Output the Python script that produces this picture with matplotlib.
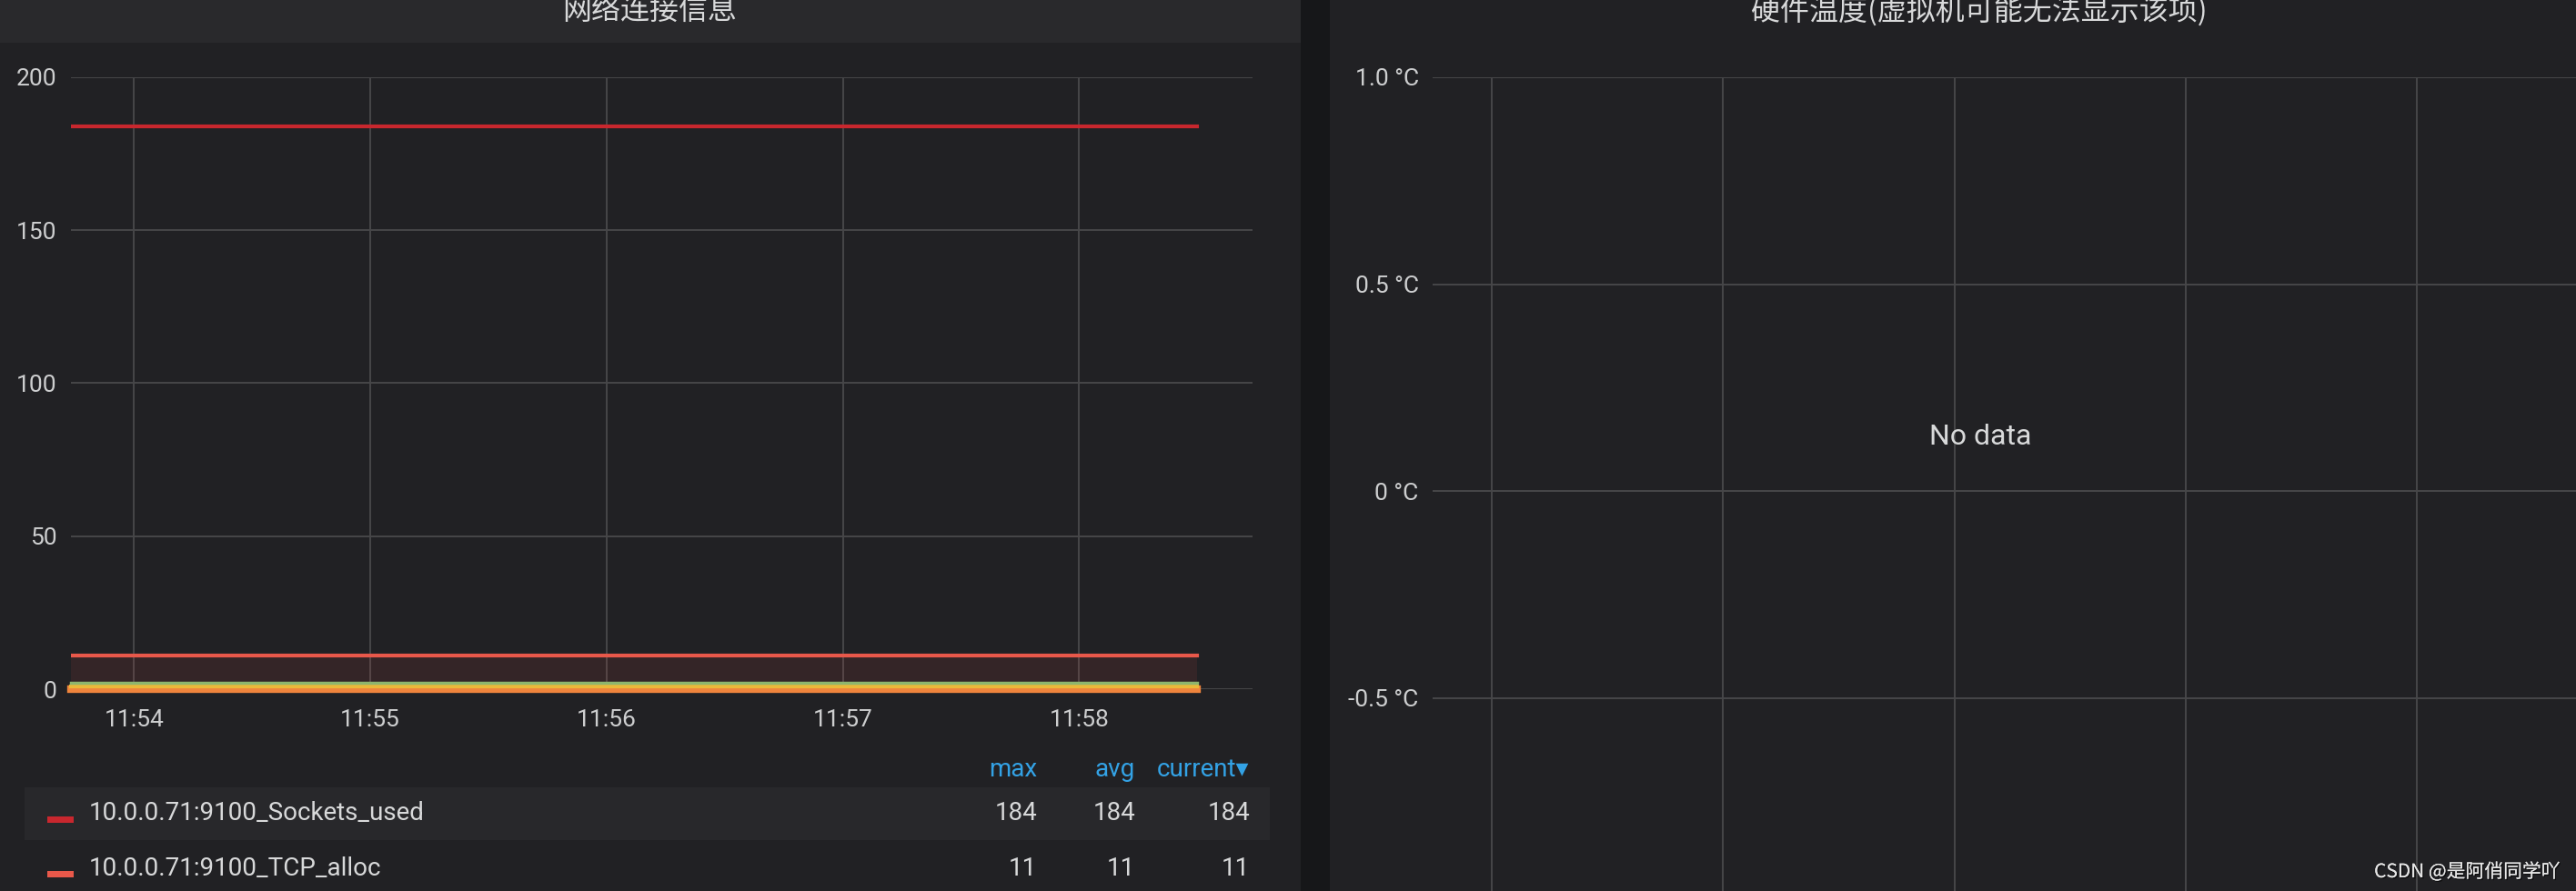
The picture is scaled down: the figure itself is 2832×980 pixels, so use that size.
import matplotlib
matplotlib.use("Agg")
import matplotlib.pyplot as plt
import matplotlib.dates as mdates
import matplotlib.patheffects as pe
from matplotlib.patches import Rectangle
import pandas as pd

W, H = 2832, 980

# time axis (same 5 minute window on both panels)
times = pd.to_datetime(["2022-08-07 11:53:44", "2022-08-07 11:54:44", "2022-08-07 11:55:44",
                        "2022-08-07 11:56:44", "2022-08-07 11:57:44", "2022-08-07 11:58:30"])
range_start = pd.Timestamp("2022-08-07 11:53:44")
range_end = pd.Timestamp("2022-08-07 11:58:44")
right_start = pd.Timestamp("2022-08-07 11:53:44.6")
right_end = pd.Timestamp("2022-08-07 11:58:41.3")

# series of the left panel
sockets_used = [184, 184, 184, 184, 184, 184]
tcp_alloc = [11, 11, 11, 11, 11, 11]
tcp_inuse = [2, 2, 2, 2, 2, 2]
tcp_tw = [1, 1, 1, 1, 1, 1]
udp_inuse = [0, 0, 0, 0, 0, 0]

left_yticks = [0, 50, 100, 150, 200]
right_yticks = [-0.5, 0, 0.5, 1.0]
right_ylabels = ["-0.5 °C", "0 °C", "0.5 °C", "1.0 °C"]

legend_names = ["10.0.0.71:9100_Sockets_used", "10.0.0.71:9100_TCP_alloc"]
legend_series = [sockets_used, tcp_alloc]
legend_colors = ["#C8272E", "#E8584A"]

left_title = "网络连接信息"
right_title = "硬件温度(虚拟机可能无法显示该项)"
watermark = "CSDN @是阿俏同学吖"

LATIN = ["Roboto", "DejaVu Sans"]
CJK = ["Noto Sans CJK SC", "DejaVu Sans"]
TICK_COLOR = "#cdcecf"
GRID_COLOR = "#474749"


def fx(x):
    return x / W


def fy(y):
    return 1 - y / H


def px_rect(fig, x0, y0, x1, y1, color):
    fig.add_artist(Rectangle((fx(x0), fy(y1)), (x1 - x0) / W, (y1 - y0) / H,
                             transform=fig.transFigure, color=color, zorder=-5, lw=0))


def px_text(fig, x, y, s, **kw):
    fig.text(fx(x), fy(y), s, **kw)


def style_axes(ax):
    ax.set_facecolor("none")
    for sp in ax.spines.values():
        sp.set_visible(False)
    ax.grid(True, color=GRID_COLOR, lw=1.4)
    ax.set_axisbelow(True)
    ax.tick_params(length=0, labelsize=19, labelcolor=TICK_COLOR)
    for lab in ax.get_xticklabels() + ax.get_yticklabels():
        lab.set_family(LATIN)
    ax.xaxis.set_major_locator(mdates.MinuteLocator())
    ax.xaxis.set_major_formatter(mdates.DateFormatter("%H:%M"))


fig = plt.figure(figsize=(W / 100, H / 100), dpi=100)
fig.patch.set_facecolor("#161719")

# panel backgrounds
px_rect(fig, 0, 0, 1430, H, "#212124")
px_rect(fig, 0, 0, 1430, 47, "#29292c")
px_rect(fig, 1462, 0, W, H, "#212124")
px_rect(fig, 27, 866, 1396, 924, "#28282b")

# left panel: network connections
ax1 = fig.add_axes([fx(78), fy(758), (1377 - 78) / W, (758 - 85) / H])
ax1.set_xlim(range_start, range_end)
ax1.set_ylim(0, 200)
ax1.set_yticks(left_yticks)
ax1.fill_between(times, tcp_alloc, 0, color="#E24D42", alpha=0.1, lw=0)
ax1.plot(times, udp_inuse, color="#EF843C", lw=6, clip_on=False)
ax1.plot(times, tcp_tw, color="#EAB839", lw=3, clip_on=False)
ax1.plot(times, tcp_inuse, color="#8DB56E", lw=2.5, clip_on=False)
ax1.plot(times, tcp_alloc, color="#E8584A", lw=3)
ax1.plot(times, sockets_used, color="#C8272E", lw=3)
style_axes(ax1)
ax1.tick_params(axis="x", pad=16)
ax1.tick_params(axis="y", pad=11)

# legend table
hdr = dict(ha="right", va="center", fontsize=20, color="#33a2e5", family=LATIN)
px_text(fig, 1140, 846, "max", **hdr)
px_text(fig, 1248, 846, "avg", **hdr)
px_text(fig, 1373, 846, "current▾", **hdr)
row_y = [895, 955]
for name, vals, col, y in zip(legend_names, legend_series, legend_colors, row_y):
    fig.add_artist(Rectangle((fx(52), fy(y + 10)), 29 / W, 7 / H,
                             transform=fig.transFigure, color=col, lw=0))
    px_text(fig, 98, y, name, ha="left", va="center", fontsize=20,
            color="#d8d9da", family=LATIN)
    stats = [max(vals), sum(vals) / len(vals), vals[-1]]
    for xr, v in zip([1140, 1248, 1374], stats):
        px_text(fig, xr, y, f"{v:.0f}", ha="right", va="center", fontsize=20,
                color="#d8d9da", family=LATIN)

# right panel: hardware temperature (no data)
ax2 = fig.add_axes([fx(1575), 0, (W - 1575) / W, (H - 85) / H])
ax2.set_xlim(right_start, right_end)
ax2.set_ylim(-0.966, 1.0)
ax2.set_yticks(right_yticks)
ax2.set_yticklabels(right_ylabels)
style_axes(ax2)
ax2.tick_params(axis="x", labelbottom=False)
ax2.tick_params(axis="y", pad=11)
px_text(fig, 2177, 480, "No data", ha="center", va="center", fontsize=23,
        color="#d8d9da", family=LATIN)

# panel titles
px_text(fig, 714, 12, left_title, ha="center", va="center", fontsize=23,
        color="#d8d9da", family=CJK)
px_text(fig, 2176, 12, right_title, ha="center", va="center", fontsize=23,
        color="#d8d9da", family=CJK)

# watermark
px_text(fig, 2815, 959, watermark, ha="right", va="center", fontsize=15,
        color="#e6e6e6", family=CJK,
        path_effects=[pe.withSimplePatchShadow(offset=(1, -1), shadow_rgbFace="#000000", alpha=0.6),
                      pe.Normal()])

fig.savefig("out.png", dpi=100, facecolor=fig.get_facecolor())
